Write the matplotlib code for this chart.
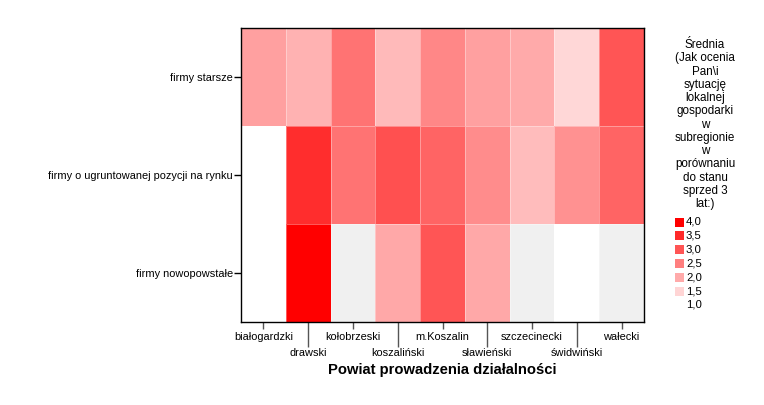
import numpy as np
import matplotlib
matplotlib.use("Agg")
import matplotlib.pyplot as plt
from matplotlib.colors import LinearSegmentedColormap
from matplotlib.patches import Rectangle

plt.rcParams['font.family'] = ['Liberation Sans', 'DejaVu Sans']

districts = ["białogardzki", "drawski", "kołobrzeski", "koszaliński", "m.Koszalin",
             "sławieński", "szczecinecki", "świdwiński", "wałecki"]
firm_types = ["firmy starsze", "firmy o ugruntowanej pozycji na rynku", "firmy nowopowstałe"]

starsze = [2.12, 1.91, 2.65, 1.82, 2.41, 2.12, 2.0, 1.47, 3.0]
ugruntowane = [1.0, 3.47, 2.65, 3.06, 2.82, 2.35, 1.79, 2.29, 2.82]
nowopowstale = [1.0, 4.0, np.nan, 2.02, 3.0, 2.02, np.nan, 1.0, np.nan]

legend_values = [4.0, 3.5, 3.0, 2.5, 2.0, 1.5, 1.0]
legend_labels = ["4,0", "3,5", "3,0", "2,5", "2,0", "1,5", "1,0"]
legend_title = ("Średnia\n(Jak ocenia\nPan\\i\nsytuację\nlokalnej\ngospodarki\nw\n"
                "subregionie\nw\nporównaniu\ndo stanu\nsprzed 3\nlat:)")
xlabel = "Powiat prowadzenia działalności"

W, H = 764, 405
fig = plt.figure(figsize=(W / 100, H / 100), dpi=100)
ax = fig.add_axes([241 / W, 1 - 322 / H, (644 - 241) / W, (322 - 28) / H])

cmap = LinearSegmentedColormap.from_list("wr", ["#ffffff", "#ff0000"])
cmap.set_bad("#f0f0f0")
vmin, vmax = 1.0, 4.0

data = np.ma.masked_invalid(np.array([starsze, ugruntowane, nowopowstale], dtype=float))
ax.pcolormesh(np.arange(len(districts) + 1), np.arange(len(firm_types) + 1), data,
              cmap=cmap, vmin=vmin, vmax=vmax, edgecolor=(1, 1, 1, 0.35), linewidth=0.6)
ax.set_xlim(0, len(districts))
ax.set_ylim(len(firm_types), 0)

for s in ax.spines.values():
    s.set_color("black")
    s.set_linewidth(1.0)

fs = 7.9
ax.set_yticks(np.arange(len(firm_types)) + 0.5, firm_types, fontsize=fs)
ax.tick_params(axis="y", length=5, width=1, color="black", pad=1)

centers = np.arange(len(districts)) + 0.5
ax.set_xticks(centers[0::2], districts[0::2], fontsize=fs)
ax.set_xticks(centers[1::2], districts[1::2], minor=True, fontsize=fs)
ax.tick_params(axis="x", which="major", length=5, width=1, color="#555555", pad=2)
ax.tick_params(axis="x", which="minor", length=18, width=1, color="#555555", pad=1)
ax.set_xlabel(xlabel, fontsize=10.6, fontweight="bold", labelpad=3)

# legend
fig.text(705 / W, 1 - 39 / H, legend_title, ha="center", va="top", fontsize=8.4,
         linespacing=1.14)
y0 = 222
step = 13.8
for i, (v, lab) in enumerate(zip(legend_values, legend_labels)):
    yc = y0 + i * step
    col = cmap((v - vmin) / (vmax - vmin))
    fig.patches.append(Rectangle((675 / W, 1 - (yc + 4.5) / H), 9 / W, 9 / H,
                                 transform=fig.transFigure, facecolor=col,
                                 edgecolor="none", figure=fig))
    fig.text(686 / W, 1 - yc / H, lab, ha="left", va="center", fontsize=8.2)

fig.savefig("out.png", dpi=100)
